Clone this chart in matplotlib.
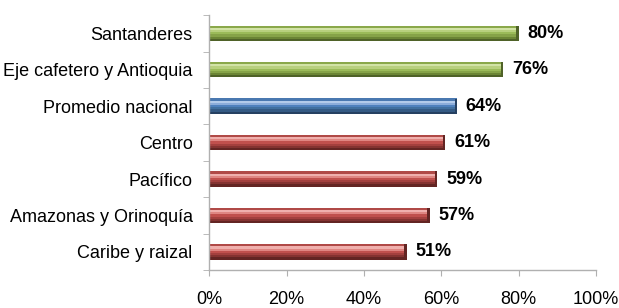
import matplotlib
matplotlib.use("Agg")
import matplotlib.pyplot as plt
import numpy as np

categories = ["Caribe y raizal", "Amazonas y Orinoquía", "Pacífico", "Centro",
              "Promedio nacional", "Eje cafetero y Antioquia", "Santanderes"]
values = [51, 57, 59, 61, 64, 76, 80]
groups = ["red", "red", "red", "red", "blue", "green", "green"]
x_ticks = [0, 20, 40, 60, 80, 100]

# shading bands from top to bottom of each bar (fake cylinder look)
shades = {
    "green": ["#8aa84a", "#d2e3a6", "#b8d07e", "#9bbb59", "#86a348", "#6b8535", "#4f6228"],
    "blue": ["#4a78b0", "#b3cbea", "#8cadda", "#4f81bd", "#41709f", "#345a84", "#254061"],
    "red": ["#b04a47", "#f0b0ad", "#df8682", "#c0504d", "#a3403e", "#843331", "#632523"],
}

plt.rcParams['font.family'] = ['Liberation Sans', 'DejaVu Sans']

fig = plt.figure(figsize=(6.19, 3.08), dpi=100)
ax = fig.add_axes([0.338, 0.123, 0.625, 0.828])

y = np.arange(len(categories))
bar_h = 0.42
for yi, v, g in zip(y, values, groups):
    cols = shades[g]
    n = len(cols)
    band = bar_h / n
    for k, c in enumerate(cols):
        ax.barh(yi + bar_h / 2 - band * (k + 0.5), v, height=band * 1.02,
                color=c, linewidth=0)
    # end cap
    ax.barh(yi, 0.6, left=v - 0.6, height=bar_h, color=cols[-1], linewidth=0)
    ax.text(v + 2.3, yi, f"{v}%", va="center", ha="left",
            fontsize=13, fontweight="bold", color="#000000")

ax.set_xlim(0, 100)
ax.set_ylim(-0.5, len(categories) - 0.5)
ax.set_xticks(x_ticks)
ax.set_xticklabels([f"{t}%" for t in x_ticks], fontsize=13)
ax.set_yticks(y)
ax.set_yticklabels(categories, fontsize=13)
ax.set_yticks(np.arange(-0.5, len(categories), 1), minor=True)

for s in ["top", "right"]:
    ax.spines[s].set_visible(False)
for s in ["left", "bottom"]:
    ax.spines[s].set_color("#b0b0b0")
    ax.spines[s].set_linewidth(1.0)

ax.tick_params(axis="y", which="major", length=0, pad=12)
ax.tick_params(axis="y", which="minor", length=4, color="#b0b0b0")
ax.tick_params(axis="x", length=4, color="#b0b0b0", pad=11)

fig.savefig("out.png", dpi=100)
